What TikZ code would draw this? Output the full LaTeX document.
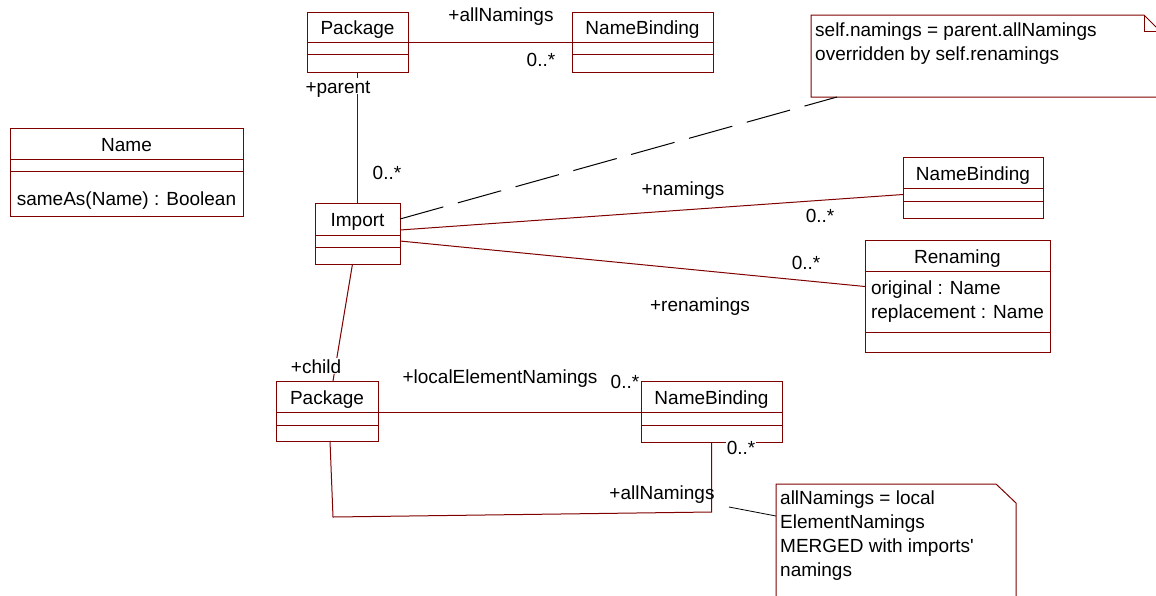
\documentclass[tikz,border=0pt]{standalone}
\usepackage{fontspec}
\setmainfont{Liberation Sans}
\newfontfamily\plainsans{Liberation Sans}[Ligatures=ResetAll]
\usepackage{tikz}
\usetikzlibrary{positioning}
\definecolor{umlred}{RGB}{128,0,0}
\tikzset{
  chead/.style={draw=umlred,line width=1pt,outer sep=0pt,inner sep=0pt,minimum height=31pt,
    text height=17.5pt,text depth=2pt},
  ccomp/.style={draw=umlred,line width=1pt,outer sep=0pt,inner sep=4pt,align=left},
  assoc/.style={umlred,line width=1pt},
  role/.style={fill=white,inner sep=1pt,text height=14pt,text depth=0pt},
  nbox/.style={draw=umlred,line width=1pt},
  narea/.style={anchor=north west,inner sep=0pt,outer sep=0pt},
  ntext/.style={anchor=north west,align=left,inner sep=4pt},
  dlink/.style={black,line width=1pt,dash pattern=on 45pt off 15pt}
}
\begin{document}
\begin{tikzpicture}[x=1pt,y=-1pt,font=\fontsize{19}{24}\selectfont]
\useasboundingbox (0,0) rectangle (1156,595);
\node[chead,minimum width=101pt,minimum height=30pt] (pkgP) at (357.5,27) {Package};
\node[ccomp,minimum width=101pt,minimum height=12pt,below=0pt of pkgP] (pkgPa) {};
\node[ccomp,minimum width=101pt,minimum height=18pt,below=0pt of pkgPa] (pkgPo) {};
\node[chead,minimum width=141pt,minimum height=30pt] (nbP) at (642.5,27) {NameBinding};
\node[ccomp,minimum width=141pt,minimum height=12pt,below=0pt of nbP] (nbPa) {};
\node[ccomp,minimum width=141pt,minimum height=18pt,below=0pt of nbPa] (nbPo) {};
\node[chead,minimum width=233pt] (name) at (126.5,143.5) {Name};
\node[ccomp,minimum width=233pt,minimum height=12pt,below=0pt of name] (namea) {};
\node[ccomp,minimum width=233pt,minimum height=45pt,below=0pt of namea,
  text height=24pt,text depth=1pt] (nameo) {sameAs(Name) : Boolean};
\node[chead,minimum width=85pt,minimum height=32pt] (imp) at (357.5,219) {Import};
\node[ccomp,minimum width=85pt,minimum height=12pt,below=0pt of imp] (impa) {};
\node[ccomp,minimum width=85pt,minimum height=17pt,below=0pt of impa] (impo) {};
\node[chead,minimum width=140pt] (nbI) at (973,172.5) {NameBinding};
\node[ccomp,minimum width=140pt,minimum height=13pt,below=0pt of nbI] (nbIa) {};
\node[ccomp,minimum width=140pt,minimum height=17pt,below=0pt of nbIa] (nbIo) {};
\node[chead,minimum width=185pt] (ren) at (957.5,255.5) {Renaming};
\node[ccomp,minimum width=185pt,minimum height=61pt,below=0pt of ren] (rena) {original : Name\\replacement : Name};
\node[ccomp,minimum width=185pt,minimum height=20pt,below=0pt of rena] (reno) {};
\node[chead,minimum width=102pt] (pkgC) at (327,396.5) {Package};
\node[ccomp,minimum width=102pt,minimum height=13pt,below=0pt of pkgC] (pkgCa) {};
\node[ccomp,minimum width=102pt,minimum height=16pt,below=0pt of pkgCa] (pkgCo) {};
\node[chead,minimum width=141pt] (nbC) at (711.5,396.5) {NameBinding};
\node[ccomp,minimum width=141pt,minimum height=13pt,below=0pt of nbC] (nbCa) {};
\node[ccomp,minimum width=141pt,minimum height=17pt,below=0pt of nbCa] (nbCo) {};

\node[narea,minimum width=349pt,minimum height=82pt] (n1) at (811,15) {};
\draw[nbox] (n1.north west) -- ([xshift=-16pt]n1.north east) -- ([yshift=-16pt]n1.north east)
  -- (n1.south east) -- (n1.south west) -- cycle;
\draw[nbox] ([xshift=-16pt]n1.north east) |- ([yshift=-16pt]n1.north east);
\node[ntext] (n1t) at ([yshift=-4pt]n1.north west) {self.namings = parent.allNamings\\overridden by self.renamings};
\node[narea,minimum width=240pt,minimum height=130pt] (n2) at (776,484) {};
\draw[nbox] (n2.north west) -- ([xshift=-20pt]n2.north east) -- ([yshift=-19pt]n2.north east)
  -- (n2.south east) -- (n2.south west) -- cycle;
\node[ntext] (n2t) at ([yshift=-3pt]n2.north west) {allNamings = local\\ElementNamings\\MERGED with imports{\plainsans'}\\namings};

\draw[assoc] (pkgP.south east) -- (nbP.south west);
\draw[assoc] (pkgPo.south) -- (imp.north);
\draw[assoc] ([yshift=-11pt]imp.east) -- (nbIa.west);
\draw[assoc] (impa.east) -- ([yshift=15pt]rena.west);
\draw[dlink] (imp.east) -- ([xshift=26pt]n1.south west);
\draw[assoc] ([xshift=-5pt]impo.south) -- ([xshift=6pt]pkgC.north);
\draw[assoc] (pkgC.south east) -- (nbC.south west);
\coordinate (selfA) at (333,517);
\coordinate (selfB) at (711.5,512);
\draw[assoc] ([xshift=3pt]pkgCo.south) -- (selfA) -- (selfB) -- (nbCo.south);
\coordinate (n2end) at (729,507);
\draw[black,line width=0.8pt] (n2end) -- ([yshift=-32pt]n2.north west);

\node[role] (rAllP) at (501,14) {+allNamings};
\node[role] (mAllP) at (541,59) {0..*};
\node[role] (rParent) at (338,86) {+parent};
\node[role] (mImp) at (387,172) {0..*};
\node[role] (rNam) at (683,188) {+namings};
\node[role] (mNam) at (820,215) {0..*};
\node[role] (mRen) at (806,262) {0..*};
\node[role] (rRen) at (700,304) {+renamings};
\node[role] (rChild) at (316,366) {+child};
\node[role] (rLocal) at (500,376) {+localElementNamings};
\node[role] (mLocal) at (625,381) {0..*};
\node[role] (mAllC) at (741,447) {0..*};
\node[role,fill=none] (rAllC) at (662,492) {+allNamings};
\end{tikzpicture}
\end{document}
